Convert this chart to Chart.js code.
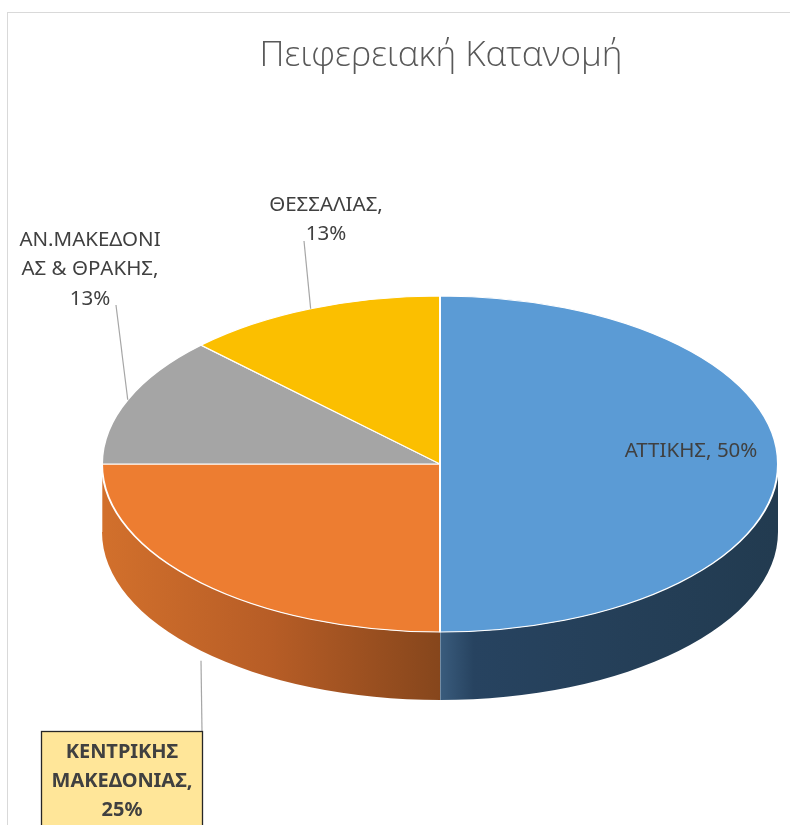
<!DOCTYPE html>
<html>
<head>
<meta charset="utf-8">
<script src="https://cdn.jsdelivr.net/npm/chart.js@4"></script>
<style>
  html, body { margin: 0; padding: 0; background: #fff; overflow: hidden; width: 790px; height: 825px; }
  #frame { position: absolute; left: 7px; top: 12px; width: 866px; height: 830px; border: 1px solid #d9d9d9; }
  canvas { display: block; }
</style>
</head>
<body>
<div id="frame"><canvas id="pieChart" width="866" height="830"></canvas></div>
<script>
// data
var regions = ['ΑΤΤΙΚΗΣ', 'ΚΕΝΤΡΙΚΗΣ ΜΑΚΕΔΟΝΙΑΣ', 'ΑΝ.ΜΑΚΕΔΟΝΙΑΣ & ΘΡΑΚΗΣ', 'ΘΕΣΣΑΛΙΑΣ'];
var counts = [4, 2, 1, 1];
var topColors = ['#5b9bd5', '#ed7d31', '#a5a5a5', '#fbbf00'];
var chartTitle = 'Πειφερειακή Κατανομή';

// label text as it is wrapped in the picture
var labelLines = [
    ['ΑΤΤΙΚΗΣ, 50%'],
    ['ΚΕΝΤΡΙΚΗΣ', 'ΜΑΚΕΔΟΝΙΑΣ,', '25%'],
    ['ΑΝ.ΜΑΚΕΔΟΝΙ', 'ΑΣ & ΘΡΑΚΗΣ,', '13%'],
    ['ΘΕΣΣΑΛΙΑΣ,', '13%']
];

// 3d look
var pieCx = 432, pieCy = 451;   // where the top ellipse sits on the canvas
var tilt = 0.497;               // ry / rx
var depth = 68;

function ellipsePt(r, a, dy) {
    return { x: pieCx + r * Math.cos(a), y: pieCy + r * tilt * Math.sin(a) + (dy || 0) };
}

var pie3d = {
    id: 'pie3d',
    beforeDatasetsDraw: function (chart) {
        var ctx = chart.ctx;
        var arcs = chart.getDatasetMeta(0).data;
        var r = arcs[0].outerRadius;
        var ry = r * tilt;
        // side walls, only the front half (0..PI) shows
        arcs.forEach(function (arc, i) {
            var a1 = Math.max(arc.startAngle, 0);
            var a2 = Math.min(arc.endAngle, Math.PI);
            if (a2 <= a1) return;
            var p1 = ellipsePt(r, a1), p2 = ellipsePt(r, a2);
            var g = ctx.createLinearGradient(Math.min(p1.x, p2.x), 0, Math.max(p1.x, p2.x), 0);
            if (i === 0) {
                g.addColorStop(0, '#3a5c7d');
                g.addColorStop(0.1, '#274360');
                g.addColorStop(1, '#223b50');
            } else {
                g.addColorStop(0, '#d2702c');
                g.addColorStop(0.5, '#b75d26');
                g.addColorStop(1, '#86461c');
            }
            ctx.save();
            ctx.beginPath();
            ctx.ellipse(pieCx, pieCy, r, ry, 0, a1, a2);
            ctx.ellipse(pieCx, pieCy + depth, r, ry, 0, a2, a1, true);
            ctx.closePath();
            ctx.fillStyle = g;
            ctx.fill();
            ctx.strokeStyle = 'rgba(255,255,255,0.6)';
            ctx.lineWidth = 1;
            ctx.beginPath();
            ctx.moveTo(p2.x, p2.y);
            ctx.lineTo(p2.x, p2.y + depth);
            ctx.stroke();
            ctx.restore();
        });
        // squash the round pie into the top ellipse
        var a0 = arcs[0];
        ctx.save();
        ctx.translate(pieCx, pieCy);
        ctx.scale(1, tilt);
        ctx.translate(-a0.x, -a0.y);
    },
    afterDatasetsDraw: function (chart) {
        var ctx = chart.ctx;
        ctx.restore();
        var arcs = chart.getDatasetMeta(0).data;
        var r = arcs[0].outerRadius;

        ctx.save();
        ctx.strokeStyle = '#a6a6a6';
        ctx.lineWidth = 1.2;
        ctx.fillStyle = '#404040';
        ctx.textAlign = 'center';
        ctx.textBaseline = 'middle';

        // ΑΤΤΙΚΗΣ: inside the slice
        ctx.font = '20.5px "Noto Sans"';
        ctx.fillText(labelLines[0][0], 683, 438);

        // ΘΕΣΣΑΛΙΑΣ
        var m3 = (arcs[3].startAngle + arcs[3].endAngle) / 2;
        var q3 = ellipsePt(r, m3);
        ctx.beginPath(); ctx.moveTo(q3.x, q3.y); ctx.lineTo(296, 228); ctx.stroke();
        labelLines[3].forEach(function (t, k) { ctx.fillText(t, 318, 192 + k * 29); });

        // ΑΝ.ΜΑΚΕΔΟΝΙΑΣ & ΘΡΑΚΗΣ
        var m2 = (arcs[2].startAngle + arcs[2].endAngle) / 2;
        var q2 = ellipsePt(r, m2);
        ctx.beginPath(); ctx.moveTo(q2.x, q2.y); ctx.lineTo(108, 292); ctx.stroke();
        labelLines[2].forEach(function (t, k) { ctx.fillText(t, 82, 227 + k * 29.5); });

        // ΚΕΝΤΡΙΚΗΣ ΜΑΚΕΔΟΝΙΑΣ, highlighted box
        var m1 = (arcs[1].startAngle + arcs[1].endAngle) / 2;
        var q1 = ellipsePt(r, m1, depth);
        ctx.beginPath(); ctx.moveTo(q1.x, q1.y + 10); ctx.lineTo(194, 718); ctx.stroke();
        ctx.fillStyle = '#ffe699';
        ctx.fillRect(33, 718, 161, 130);
        ctx.strokeStyle = '#262626';
        ctx.lineWidth = 1.3;
        ctx.strokeRect(33.5, 718.5, 161, 130);
        ctx.fillStyle = '#404040';
        ctx.font = 'bold 20px "Noto Sans"';
        labelLines[1].forEach(function (t, k) { ctx.fillText(t, 114, 739 + k * 29); });
        ctx.restore();
    }
};

var ctx = document.getElementById('pieChart').getContext('2d');
var pieChart = new Chart(ctx, {
    type: 'pie',
    data: {
        labels: regions,
        datasets: [{
            data: counts,
            backgroundColor: topColors,
            borderColor: '#ffffff',
            borderWidth: 2,
            radius: 338
        }]
    },
    options: {
        responsive: false,
        animation: false,
        events: [],
        plugins: {
            legend: { display: false },
            tooltip: { enabled: false },
            title: {
                display: true,
                text: chartTitle,
                color: '#595959',
                font: { family: '"Open Sans"', size: 35, weight: '300' },
                padding: { top: 22, bottom: 10 }
            }
        }
    },
    plugins: [pie3d]
});
</script>
</body>
</html>
